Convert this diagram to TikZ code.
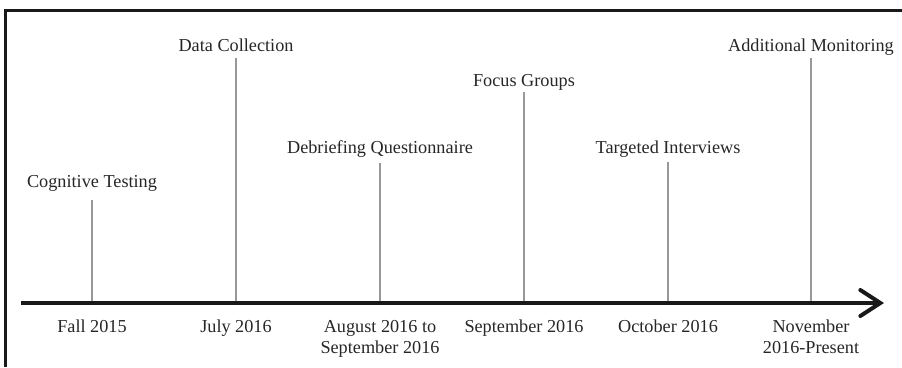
\documentclass[tikz,border=0pt]{standalone}
\usepackage{fontspec}
\setmainfont{Liberation Serif}
\usetikzlibrary{arrows.meta}
\begin{document}
\begin{tikzpicture}[x=1bp,y=-1bp,
  lbl/.style={font=\fontsize{18.3}{21}\selectfont, anchor=base, inner sep=0pt, text=black!85},
  datelbl/.style={lbl, align=center},
  tick/.style={draw=black!40, line width=1.5bp},
  axisline/.style={line width=4bp, draw=black!90, -{Straight Barb[length=20bp,width=26bp,line cap=round]}},
  frameline/.style={line width=3bp, draw=black!90}]
\useasboundingbox (0,0) rectangle (902,367);

% frame along the left and top edges
\draw[frameline] (5.5,367) -- (5.5,10) -- (902,10);

% time axis
\coordinate (axstart) at (21,303);
\coordinate (axend) at (884,303);

% milestones: x / label baseline / tick top / name / label / date baseline (last line) / date
\foreach \x/\yb/\yt/\n/\ev/\yd/\dt in {
   92/187/200/a/{Cognitive Testing}/332/{Fall 2015},
  236/51/58/b/{Data Collection}/332/{July 2016},
  380/153/163/c/{Debriefing Questionnaire}/353/{August 2016 to\\September 2016},
  524/86/92/d/{Focus Groups}/332/{September 2016},
  668/153/162/e/{Targeted Interviews}/332/{October 2016},
  811/51/58/f/{Additional Monitoring}/353/{November\\2016-Present}}{
  \node[lbl] (ev\n) at (\x,\yb) {\ev};
  \coordinate (top\n) at (\x,\yt);
  \coordinate (ax\n) at (\x,303);
  \node[datelbl] (dt\n) at (\x,\yd) {\dt};
  \draw[tick] (top\n) -- (ax\n);
}

\draw[axisline] (axstart) -- (axend);
\end{tikzpicture}
\end{document}
